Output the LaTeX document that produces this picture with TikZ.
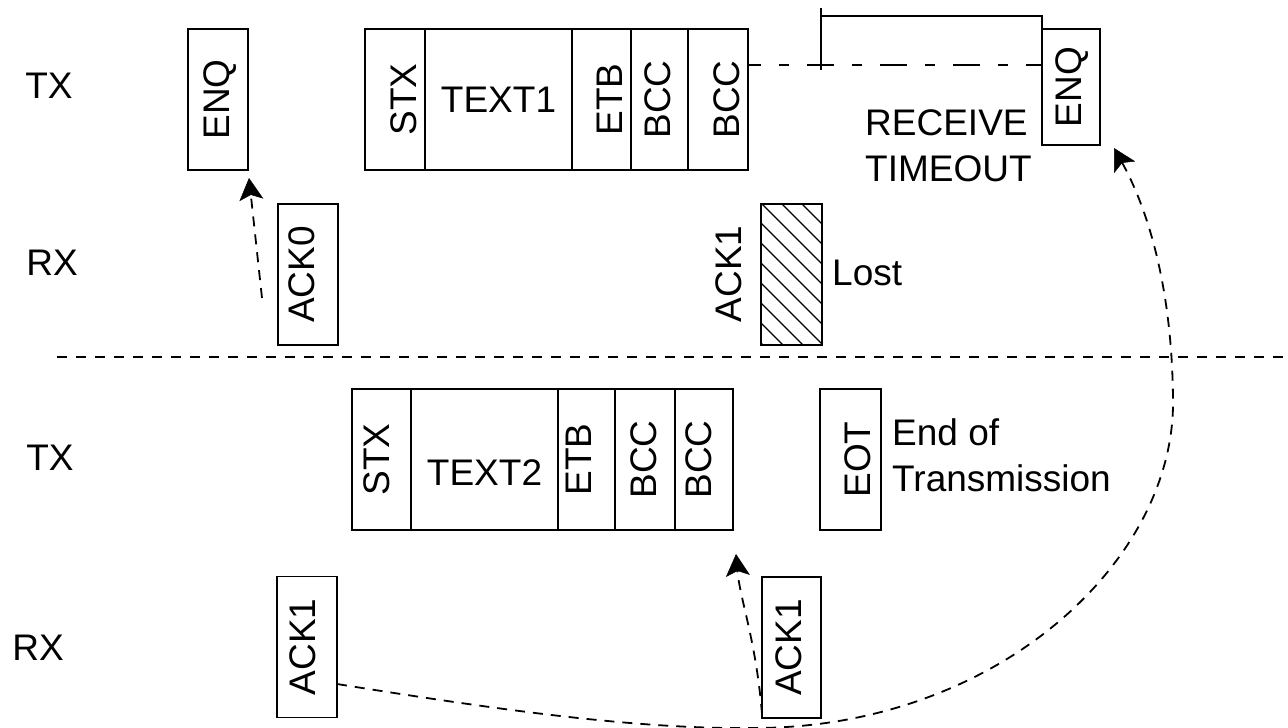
\documentclass[tikz,border=0pt]{standalone}
\usepackage{graphicx}
\usepackage{fontspec}
\setmainfont{Liberation Sans}
\usetikzlibrary{arrows.meta, calc, positioning}
\newcommand{\vtext}[2][0pt]{\rotatebox{90}{\raisebox{0pt}[\dimexpr 32pt+#1+#1\relax][5pt]{#2}}}

\begin{document}
\begin{tikzpicture}[x=1pt,y=-1pt,font=\fontsize{37}{46}\selectfont,
    box/.style={draw,line width=1.8pt,minimum height=141pt,inner sep=0pt,outer sep=0pt},
    wire/.style={line width=1.8pt,dash pattern=on 10pt off 8pt},
    msg/.style={wire,-{Stealth[length=22pt,width=24pt,inset=5pt,line width=0.5pt]}},
    note/.style={inner sep=0pt,align=left,anchor=west}]
    \useasboundingbox (0,0) rectangle (1288,728);
    \node (txa) at (49,85.5) {TX};
    \node (rxa) at (52,263) {RX};
    \node (txb) at (50,458) {TX};
    \node (rxb) at (38,648) {RX};
    \node[box,minimum width=60pt] (enqa) at (218,99.5) {\vtext[-2pt]{ENQ}};
    \node[box,minimum width=60pt] (stxa) at (395,99.5) {\vtext[8pt]{STX}};
    \node[box,minimum width=147pt,right=0pt of stxa] (texta) {TEXT1};
    \node[box,minimum width=59pt,right=0pt of texta] (etba) {\vtext[7pt]{ETB}};
    \node[box,minimum width=57pt,right=0pt of etba] (bcca) {\vtext[-3pt]{BCC}};
    \node[box,minimum width=60pt,right=0pt of bcca] (bccc) {\vtext[8pt]{BCC}};
    \node[box,minimum width=58pt,minimum height=116pt] (enqb) at (1071,87) {\vtext[-3pt]{ENQ}};
    \node[note] (tmo) at (865,146) {RECEIVE\\TIMEOUT};
    \draw[line width=1.8pt,dash pattern=on 10pt off 18pt on 27pt off 18pt,dash phase=42pt]
      ([yshift=-36pt]bccc.north east) -- ([yshift=-36pt]enqb.north west);
    \draw[line width=1.8pt] (821,8) -- (821,70) (821,16) -- (1042,16) -- (enqb.north west);
    \node[box,minimum width=60pt] (acka) at (308,274.5) {\vtext[-7pt]{ACK0}};
    \node (ackb) at (728,274) {\vtext{ACK1}};
    \node[box,minimum width=61pt] (lost) at (791.5,274.5) {};
    \begin{scope}
      \clip (lost.south west) rectangle (lost.north east);
      \foreach \k in {-8,...,2}
        \draw[line width=1.2pt] ([xshift=\k*20pt+21pt]lost.north west) -- ++(160,160);
    \end{scope}
    \node[note] (lostl) at (832,272.5) {Lost};
    \draw[line width=1.8pt,dash pattern=on 10pt off 9pt] (57,357) -- (1288,357);
    \node[box,minimum width=59pt] (stxb) at (381.5,459.5) {\vtext[-6pt]{STX}};
    \node[box,minimum width=147pt,text height=51pt,text depth=0pt,right=0pt of stxb] (textb) {TEXT2};
    \node[box,minimum width=57pt,right=0pt of textb] (etbb) {\vtext[-9pt]{ETB}};
    \node[box,minimum width=60pt,right=0pt of etbb] (bccb) {\vtext[-2pt]{BCC}};
    \node[box,minimum width=58pt,right=0pt of bccb] (bccd) {\vtext[-6pt]{BCC}};
    \node[box,minimum width=61pt] (eot) at (850.5,459.5) {\vtext[6pt]{EOT}};
    \node[note] (eotl) at (892,455) {End of\\Transmission};
    \node[box,minimum width=60pt] (ackc) at (307,647) {\vtext[-5pt]{ACK1}};
    \node[box,minimum width=59pt] (ackd) at (791.5,647.5) {\vtext[-4pt]{ACK1}};
    \coordinate (srca) at (262,298);
    \coordinate (tipa) at (249,178);
    \coordinate (tipb) at (736,554);
    \coordinate (tipc) at (1114,148);
    \draw[msg] (srca) -- (tipa);
    \draw[msg] ([yshift=4pt]ackd.south west) .. controls (756,640) and (740,600) .. (tipb);
    \draw[msg] ([yshift=-37pt]ackc.east) .. controls (500,710) and (640,730) .. (760,728)
      .. controls (1000,725) and (1175,560) .. (1173,400)
      .. controls (1172,270) and (1140,195) .. (tipc);
  \end{tikzpicture}
\end{document}
